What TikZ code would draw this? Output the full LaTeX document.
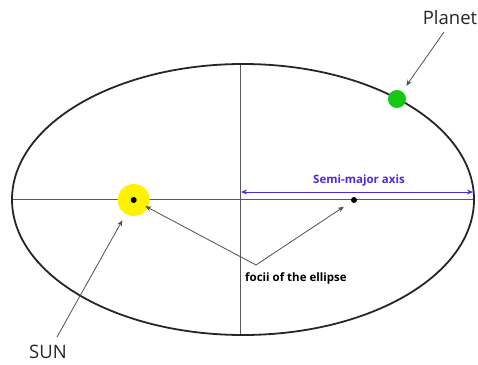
\documentclass[tikz,border=0pt]{standalone}
\usepackage{fontspec}
\setmainfont{Open Sans}
\usetikzlibrary{arrows.meta}
\definecolor{axisblue}{RGB}{80,40,225}
\definecolor{ptrgray}{RGB}{80,80,80}
\definecolor{planetgreen}{RGB}{20,200,20}
\tikzset{
  orbit/.style={line width=1.8pt, draw=black!85},
  axisline/.style={line width=0.8pt, draw=black!65},
  pointer/.style={draw=ptrgray, line width=0.8pt, -{Stealth[length=6pt,width=5pt]}},
  bigtext/.style={font=\fontsize{18.5}{18.5}\selectfont, text=black!85, inner sep=0pt},
  smalltext/.style={font=\bfseries\fontsize{11.5}{12}\selectfont, inner sep=0pt},
  dotnode/.style={circle, fill=black, inner sep=0pt, minimum size=6pt},
}
\begin{document}
\begin{tikzpicture}[x=1pt,y=-1pt]
\useasboundingbox (0,0) rectangle (478,364);
% axes
\coordinate (axL) at (12,199.5);
\coordinate (axR) at (474,199.5);
\coordinate (axT) at (240,64);
\coordinate (axB) at (240,335);
\draw[axisline] (axL) -- (axR);
\draw[axisline] (axT) -- (axB);
% orbit
\draw[orbit] (243,199.5) ellipse [x radius=231, y radius=135.5];
% sun
\node[circle, fill=yellow, inner sep=0pt, minimum size=32pt] (sun) at (133.7,200) {};
\node[dotnode] (sundot) at (133.7,200) {};
\node[dotnode] (focus) at (354,200) {};
% planet
\node[circle, fill=planetgreen, inner sep=0pt, minimum size=18pt] (planet) at (397,99) {};
% labels
\node[bigtext, anchor=base] (planetlbl) at (450,24) {Planet};
\node[bigtext, anchor=base] (sunlbl) at (48,358) {SUN};
\node[smalltext, anchor=base west] (focilbl) at (245,281) {focii of the ellipse};
\node[smalltext, text=axisblue, anchor=base] (smlbl) at (359,183) {Semi-major axis};
% semi-major axis
\coordinate (smL) at (241,192);
\coordinate (smR) at (473,192);
\draw[draw=axisblue, line width=0.8pt, {Stealth[length=6pt,width=5pt]}-{Stealth[length=6pt,width=5pt]}] (smL) -- (smR);
% pointers
\coordinate (plstart) at (444,32);
\draw[pointer, shorten >=7pt] (plstart) -- (planet);
\coordinate (sunstart) at (57,337);
\draw[pointer, shorten >=7pt] (sunstart) -- (sun);
\coordinate (fv) at (256,265);
\draw[pointer, shorten >=10pt] (fv) -- (sundot);
\draw[pointer, shorten >=9pt] (fv) -- (focus);
\end{tikzpicture}
\end{document}
